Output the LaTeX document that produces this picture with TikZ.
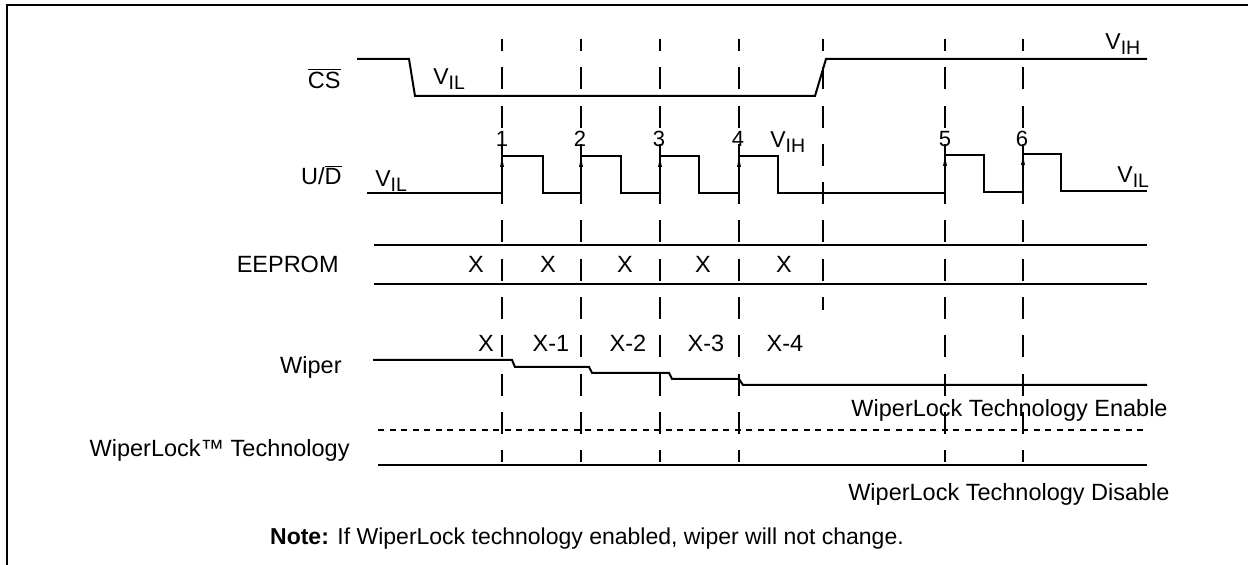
\documentclass[tikz,border=0pt]{standalone}
\usepackage{fontspec}
\setmainfont{Liberation Sans}
\tikzset{
  sig/.style={line width=1pt, line join=miter},
  vgrid/.style={line width=1.2pt, dash pattern=on 11pt off 8.15pt, dash phase=5pt},
  dotline/.style={line width=0.75pt, dash pattern=on 3pt off 2.75pt},
  lbl/.style={inner sep=0pt, font=\fontsize{11.75}{13}\selectfont},
  vlbl/.style={inner sep=0pt, font=\fontsize{11.5}{13}\selectfont, anchor=base west},
  num/.style={inner sep=0pt, font=\fontsize{11}{13}\selectfont, anchor=base},
}
\newcommand\Vlab[1]{V\raisebox{-2.3pt}{\fontsize{9.75}{10}\selectfont #1}}
\newcommand\edgearrow[2]{\fill (#1,#2+2) -- (#1-2,#2+11) -- (#1+2,#2+11) -- cycle;}
\begin{document}
\begin{tikzpicture}[x=0.5pt,y=-0.5pt]
\useasboundingbox (0,0) rectangle (1248,565);
% frame
\draw[line width=1pt] (7,566) -- (7,5) -- (1249,5);
% dashed time markers
\foreach \x in {502,581,660,739,945,1023} \draw[vgrid] (\x,39) -- (\x,462);
\draw[vgrid] (823,39) -- (823,310);
% CS
\draw[sig] (357,59) -- (409,59) -- (415,96) -- (815,96) -- (826,59) -- (1147,59);
% U/D
\draw[sig] (367,193) -- (502,193) -- (502,156) -- (543,156) -- (543,193) -- (581,193)
  -- (581,156) -- (621,156) -- (621,193) -- (660,193) -- (660,156) -- (699,156)
  -- (699,193) -- (739,193) -- (739,156) -- (778,156) -- (778,193) -- (945,193)
  -- (945,155) -- (984,155) -- (984,192) -- (1023,192) -- (1023,154) -- (1061,154)
  -- (1061,191) -- (1147,191);
\edgearrow{502}{156}
\edgearrow{581}{156}
\edgearrow{660}{156}
\edgearrow{739}{156}
\edgearrow{945}{155}
\edgearrow{1023}{154}
% EEPROM
\draw[sig] (374,245) -- (1147,245);
\draw[sig] (374,284) -- (1147,284);
% Wiper
\draw[sig] (373,360) -- (512,360) -- (515,367) -- (589,367) -- (592,373) -- (669,373)
  -- (672,379) -- (739,379) -- (743,385) -- (1147,385);
% WiperLock
\draw[dotline] (378,430) -- (1147,430);
\draw[sig] (378,465) -- (1147,465);
% signal names
\node[lbl, anchor=base east] (cs) at (341,89) {$\overline{\mbox{CS}}$};
\node[lbl, anchor=base east] (ud) at (342,185) {U/$\overline{\mbox{D}}$};
\node[lbl, anchor=base east] (ee) at (339,273) {EEPROM};
\node[lbl, anchor=base east] (wp) at (342,374) {Wiper};
\node[lbl, anchor=base east] (wl) at (350,457) {WiperLock™ Technology};
% level labels
\node[vlbl] (csvil) at (433,85) {\Vlab{IL}};
\node[vlbl] (csvih) at (1105,50) {\Vlab{IH}};
\node[vlbl] (udvil) at (375,187) {\Vlab{IL}};
\node[vlbl] (udvih) at (770,148) {\Vlab{IH}};
\node[vlbl] (udvil2) at (1117,183) {\Vlab{IL}};
% edge numbers
\node[num] (n1) at (502,147) {1};
\node[num] (n2) at (580,147) {2};
\node[num] (n3) at (659,147) {3};
\node[num] (n4) at (738,147) {4};
\node[num] (n5) at (945,147) {5};
\node[num] (n6) at (1022,147) {6};
% EEPROM values
\node[lbl, anchor=base] (e0) at (476,273) {X};
\node[lbl, anchor=base] (e1) at (548,273) {X};
\node[lbl, anchor=base] (e2) at (625,273) {X};
\node[lbl, anchor=base] (e3) at (703,273) {X};
\node[lbl, anchor=base] (e4) at (784,273) {X};
% Wiper values
\node[lbl, anchor=base] (w0) at (486,352) {X};
\node[lbl, anchor=base] (w1) at (551,352) {X-1};
\node[lbl, anchor=base] (w2) at (628,352) {X-2};
\node[lbl, anchor=base] (w3) at (706,352) {X-3};
\node[lbl, anchor=base] (w4) at (785,352) {X-4};
% WiperLock states
\node[lbl, anchor=base east] (en) at (1168,417) {WiperLock Technology Enable};
\node[lbl, anchor=base east] (dis) at (1170,501) {WiperLock Technology Disable};
% note
\node[lbl, anchor=base, font=\fontsize{11.5}{13}\selectfont] (note) at (587,545) {\textbf{Note:} If WiperLock technology enabled, wiper will not change.};
\end{tikzpicture}
\end{document}
